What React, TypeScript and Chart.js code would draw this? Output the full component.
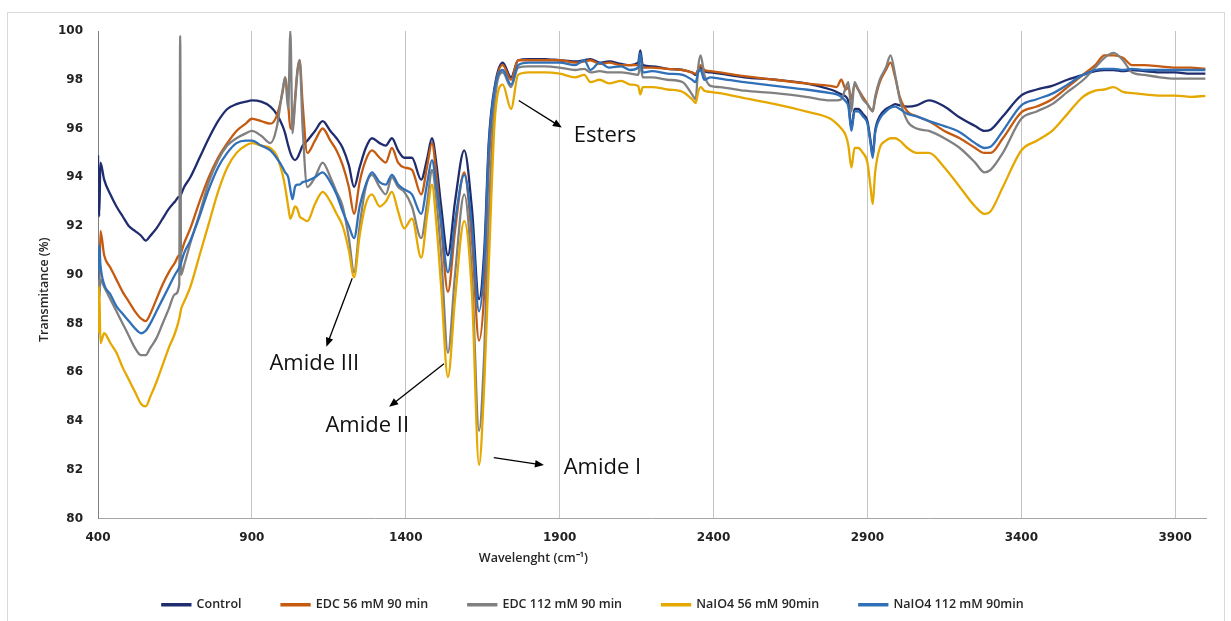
import React, { useEffect, useRef } from 'react';
import { Chart, registerables } from 'chart.js';

Chart.register(...registerables);

// ---------- data (wavenumber in cm-1, transmittance in %) ----------
const WAVENUMBERS = [
  400, 404, 408, 420, 440, 460, 480, 500, 520, 540, 555, 570, 590, 610, 630, 650, 664, 667, 670, 680, 700, 730, 760, 790, 820, 850, 880, 900, 930, 960,
  980, 1000, 1008, 1018, 1025, 1032, 1040, 1048, 1055, 1065, 1080, 1105, 1130, 1155, 1175, 1195, 1215, 1232, 1250, 1270, 1290, 1315, 1335, 1355, 1375, 1395, 1420, 1450, 1470, 1485, 1500, 1515,
  1537, 1560, 1590, 1615, 1638, 1655, 1670, 1690, 1715, 1742, 1765, 1800,
  1850, 1900, 1950, 1980, 2000, 2030, 2060, 2100, 2130, 2155, 2162, 2170, 2200, 2250, 2300, 2330, 2342, 2350, 2358, 2370, 2390, 2420, 2500, 2600, 2700, 2780,
  2800, 2815, 2830, 2838, 2848, 2858, 2870, 2885, 2900, 2910, 2917, 2925, 2940, 2960, 2975, 2990, 3005, 3030, 3060, 3100, 3150, 3200, 3250, 3280, 3300, 3340, 3400,
  3450, 3500, 3550, 3600, 3640, 3670, 3700, 3730, 3760, 3800, 3850, 3900, 3950, 3998,
];

const CONTROL = [
  94.9, 92.4, 94.6, 93.9, 93.3, 92.8, 92.4, 92.0, 91.8, 91.6, 91.4, 91.6, 91.9, 92.3, 92.7, 93.0, 93.2, 93.2, 93.3, 93.6, 94.0, 94.8, 95.6, 96.3, 96.8, 97.0, 97.1, 97.15, 97.1, 96.9,
  96.6, 96.1, 95.8, 95.3, 95.0, 94.8, 94.7, 94.8, 95.0, 95.3, 95.5, 95.9, 96.3, 95.9, 95.6, 95.2, 94.5, 93.6, 94.4, 95.2, 95.6, 95.4, 95.3, 95.6, 95.1, 94.8, 94.8, 93.9, 94.8, 95.6, 94.5, 92.8,
  90.8, 93.0, 95.1, 92.7, 89.0, 91.0, 95.5, 97.8, 98.7, 98.1, 98.8, 98.85,
  98.85, 98.8, 98.75, 98.8, 98.85, 98.7, 98.75, 98.65, 98.6, 98.7, 99.2, 98.6, 98.55, 98.45, 98.4, 98.3, 98.2, 98.4, 98.5, 98.35, 98.3, 98.25, 98.1, 98.0, 97.85, 97.6,
  97.5, 97.4, 97.3, 97.1, 96.0, 96.8, 96.8, 96.6, 96.3, 95.5, 94.9, 95.9, 96.5, 96.8, 96.9, 97.0, 96.95, 96.9, 96.95, 97.15, 96.9, 96.45, 96.1, 95.9, 95.95, 96.5, 97.36,
  97.6, 97.75, 98.0, 98.2, 98.35, 98.4, 98.4, 98.35, 98.4, 98.35, 98.3, 98.3, 98.25, 98.25,
];

const EDC_56 = [
  90.2, 89.4, 91.8, 90.8, 90.3, 89.8, 89.3, 88.9, 88.5, 88.2, 88.1, 88.4, 89.0, 89.6, 90.1, 90.5, 90.8, 90.8, 90.9, 91.3, 91.9, 93.0, 94.0, 94.8, 95.4, 95.9, 96.2, 96.4, 96.3, 96.2,
  96.5, 97.5, 98.1, 97.0, 96.0, 96.0, 97.2, 98.4, 98.8, 97.0, 95.0, 95.5, 96.0, 95.5, 95.1, 94.5, 93.6, 92.5, 93.8, 94.7, 95.1, 94.8, 94.6, 95.2, 94.6, 94.4, 94.3, 93.3, 94.5, 95.4, 94.0, 92.0,
  89.3, 91.8, 94.2, 91.4, 87.3, 89.3, 94.5, 97.6, 98.6, 98.0, 98.8, 98.8,
  98.8, 98.8, 98.7, 98.75, 98.8, 98.65, 98.7, 98.6, 98.6, 98.6, 98.9, 98.5, 98.5, 98.45, 98.4, 98.3, 98.25, 98.4, 98.6, 98.4, 98.35, 98.3, 98.15, 98.0, 97.85, 97.75,
  97.7, 98.0, 97.6, 97.7, 97.2, 97.8, 97.6, 97.3, 97.0, 96.8, 96.7, 97.2, 97.9, 98.4, 98.7, 98.1, 97.3, 96.7, 96.5, 96.3, 95.9, 95.6, 95.2, 95.0, 95.0, 95.6, 96.66,
  96.9, 97.2, 97.7, 98.2, 98.6, 99.0, 99.0, 98.9, 98.6, 98.6, 98.55, 98.5, 98.5, 98.45,
];

const EDC_112 = [
  90.6, 89.0, 89.8, 89.5, 89.0, 88.5, 88.0, 87.5, 87.0, 86.7, 86.7, 87.0, 87.4, 88.0, 88.6, 89.2, 89.6, 99.8, 90.0, 90.4, 91.3, 92.5, 93.8, 94.7, 95.3, 95.6, 95.8, 95.9, 95.7, 95.4,
  96.0, 97.6, 98.1, 96.8, 100.0, 95.8, 97.0, 98.3, 98.8, 96.0, 93.6, 94.0, 94.6, 94.0, 93.4, 92.8, 91.5, 90.1, 92.0, 93.6, 94.1, 93.6, 93.3, 94.0, 93.6, 93.4, 92.8, 91.5, 93.0, 94.3, 93.0, 90.8,
  86.8, 90.0, 93.3, 90.0, 83.6, 86.8, 92.5, 97.2, 98.3, 97.7, 98.5, 98.55,
  98.55, 98.5, 98.4, 98.45, 98.3, 98.35, 98.3, 98.3, 98.25, 98.2, 98.6, 98.1, 98.1, 98.0, 97.9, 97.4, 97.2, 98.5, 99.0, 98.2, 97.75, 97.7, 97.55, 97.45, 97.3, 97.15,
  97.15, 97.2, 97.7, 97.9, 96.7, 97.9, 97.6, 97.2, 97.0, 96.8, 96.7, 97.3, 98.0, 98.5, 99.0, 98.2, 97.2, 96.3, 96.0, 95.9, 95.6, 95.2, 94.6, 94.2, 94.3, 95.0, 96.4,
  96.7, 97.0, 97.5, 97.98, 98.5, 98.9, 99.1, 98.8, 98.3, 98.2, 98.1, 98.05, 98.05, 98.05,
];

const NAIO4_56 = [
  87.6, 89.5, 87.2, 87.6, 87.2, 86.8, 86.2, 85.7, 85.2, 84.7, 84.6, 85.0, 85.6, 86.3, 87.0, 87.6, 88.2, 88.4, 88.6, 88.9, 89.5, 90.8, 92.1, 93.4, 94.4, 95.0, 95.3, 95.4, 95.3, 95.2,
  94.9, 94.1, 93.6, 92.8, 92.3, 92.5, 92.8, 92.7, 92.4, 92.3, 92.2, 92.9, 93.4, 93.0, 92.5, 92.0, 91.0, 89.9, 91.6, 92.9, 93.3, 92.8, 93.0, 93.4, 92.6, 91.9, 92.3, 90.7, 92.5, 93.7, 92.0, 89.5,
  85.8, 89.0, 92.2, 89.2, 82.2, 85.5, 90.5, 96.5, 97.8, 96.8, 98.2, 98.3,
  98.3, 98.25, 98.1, 98.2, 97.9, 98.0, 97.85, 97.95, 97.8, 97.75, 97.4, 97.7, 97.7, 97.6, 97.5, 97.2, 97.05, 97.5, 97.7, 97.55, 97.5, 97.45, 97.25, 97.0, 96.7, 96.4,
  96.2, 96.0, 95.7, 95.3, 94.4, 95.2, 95.2, 95.0, 94.6, 93.6, 92.9, 94.2, 95.2, 95.5, 95.6, 95.6, 95.5, 95.2, 95.0, 95.0, 94.4, 93.6, 92.8, 92.5, 92.6, 93.6, 95.1,
  95.5, 95.9, 96.6, 97.3, 97.55, 97.6, 97.7, 97.5, 97.45, 97.4, 97.35, 97.35, 97.3, 97.34,
];

const NAIO4_112 = [
  89.8, 91.2, 90.4, 89.6, 89.2, 88.7, 88.4, 88.1, 87.8, 87.6, 87.7, 88.0, 88.5, 89.0, 89.5, 90.0, 90.3, 90.4, 90.5, 90.9, 91.4, 92.4, 93.5, 94.4, 95.0, 95.4, 95.5, 95.5, 95.3, 95.1,
  94.8, 94.4, 94.2, 94.0, 93.5, 93.1, 93.6, 93.7, 93.7, 93.8, 93.85, 94.0, 94.2, 93.8, 93.3, 92.6, 92.0, 91.5, 92.8, 93.7, 94.2, 93.8, 93.7, 94.1, 93.7, 93.5, 93.3, 92.5, 93.8, 94.7, 93.6, 92.2,
  90.1, 92.2, 94.1, 92.0, 88.5, 90.5, 95.3, 97.7, 98.4, 97.8, 98.6, 98.7,
  98.7, 98.7, 98.6, 98.8, 98.4, 98.7, 98.5, 98.55, 98.4, 98.5, 99.1, 98.3, 98.35, 98.25, 98.2, 98.0, 97.9, 98.3, 98.4, 98.0, 98.1, 98.05, 97.9, 97.75, 97.6, 97.45,
  97.4, 97.3, 97.1, 96.9, 95.9, 96.7, 96.7, 96.5, 96.2, 95.4, 94.8, 95.8, 96.4, 96.7, 96.85, 96.9, 96.8, 96.6, 96.5, 96.3, 96.1, 95.85, 95.4, 95.2, 95.25, 95.9, 96.95,
  97.2, 97.43, 97.8, 98.2, 98.4, 98.45, 98.45, 98.4, 98.45, 98.4, 98.4, 98.4, 98.4, 98.4,
];

const SERIES_LABELS = ['Control', 'EDC 56 mM 90 min', 'EDC 112 mM 90 min', 'NaIO4 56 mM 90min', 'NaIO4 112 mM 90min'];
const SERIES_VALUES = [CONTROL, EDC_56, EDC_112, NAIO4_56, NAIO4_112];
const SERIES_COLORS = ['#1f2d6e', '#c55a11', '#808080', '#e5a800', '#3070b8'];

const X_TICKS = [400, 900, 1400, 1900, 2400, 2900, 3400, 3900];
const X_MIN = 400;
const X_MAX = 4000;
const Y_MIN = 80;
const Y_MAX = 100;
const Y_STEP = 2;

const X_TITLE = 'Wavelenght (cm\u207B\u00B9)';
const Y_TITLE = 'Transmitance (%)';

// annotation labels and arrows, in data coordinates
const NOTE_TEXTS = ['Esters', 'Amide I', 'Amide II', 'Amide III'];
const NOTE_TEXT_X = [1946, 1913, 1139, 957];
const NOTE_TEXT_Y = [95.7, 82.1, 83.8, 86.35];
const ARROW_FROM_X = [1767, 1686, 1524, 1226];
const ARROW_FROM_Y = [97.15, 82.5, 86.35, 89.86];
const ARROW_TO_X = [1907, 1849, 1346, 1142];
const ARROW_TO_Y = [96.04, 82.19, 84.58, 87.05];

const overlayPlugin = {
  id: 'overlay',
  afterLayout(chart: any) {
    // Excel-style legend sits slightly left of centre
    if (chart.legend) {
      chart.legend.left -= 14;
      chart.legend.right -= 14;
    }
  },
  afterDatasetsDraw(chart: any) {
    const { ctx, scales, chartArea } = chart;
    const xs = scales.x;
    const ys = scales.y;
    ctx.save();
    ctx.strokeStyle = '#000';
    ctx.fillStyle = '#000';
    ctx.lineWidth = 1.3;
    for (let i = 0; i < NOTE_TEXTS.length; i++) {
      const x1 = xs.getPixelForValue(ARROW_FROM_X[i]);
      const y1 = ys.getPixelForValue(ARROW_FROM_Y[i]);
      const x2 = xs.getPixelForValue(ARROW_TO_X[i]);
      const y2 = ys.getPixelForValue(ARROW_TO_Y[i]);
      const ang = Math.atan2(y2 - y1, x2 - x1);
      const L = 9;
      const W = 3.8;
      ctx.beginPath();
      ctx.moveTo(x1, y1);
      ctx.lineTo(x2 - L * 0.6 * Math.cos(ang), y2 - L * 0.6 * Math.sin(ang));
      ctx.stroke();
      ctx.beginPath();
      ctx.moveTo(x2, y2);
      ctx.lineTo(x2 - L * Math.cos(ang) + W * Math.sin(ang), y2 - L * Math.sin(ang) - W * Math.cos(ang));
      ctx.lineTo(x2 - L * Math.cos(ang) - W * Math.sin(ang), y2 - L * Math.sin(ang) + W * Math.cos(ang));
      ctx.closePath();
      ctx.fill();
      ctx.font = '22px "Open Sans"';
      ctx.textAlign = 'left';
      ctx.textBaseline = 'middle';
      ctx.fillStyle = '#111';
      ctx.fillText(NOTE_TEXTS[i], xs.getPixelForValue(NOTE_TEXT_X[i]), ys.getPixelForValue(NOTE_TEXT_Y[i]));
      ctx.fillStyle = '#000';
    }
    // axis titles
    ctx.fillStyle = '#262626';
    ctx.font = '600 12.5px "Open Sans"';
    ctx.textAlign = 'center';
    ctx.textBaseline = 'middle';
    ctx.fillText(X_TITLE, chartArea.left + (chartArea.right - chartArea.left) * 0.393, chartArea.bottom + 40);
    ctx.translate(36, (chartArea.top + chartArea.bottom) / 2 + 15);
    ctx.rotate(-Math.PI / 2);
    ctx.fillText(Y_TITLE, 0, 0);
    ctx.restore();
  },
};

export default function App() {
  const canvasRef = useRef<HTMLCanvasElement | null>(null);

  useEffect(() => {
    if (!canvasRef.current) return;
    const tickFont = { family: '"DejaVu Sans"', size: 12, weight: 'bold' as const };
    const chart = new Chart(canvasRef.current, {
      type: 'line',
      data: {
        datasets: SERIES_LABELS.map((label, i) => ({
          label,
          data: WAVENUMBERS.map((w, j) => ({ x: w, y: SERIES_VALUES[i][j] })),
          borderColor: SERIES_COLORS[i],
          backgroundColor: SERIES_COLORS[i],
          borderWidth: 2.3,
          pointRadius: 0,
          cubicInterpolationMode: 'monotone' as const,
          order: -i,
        })),
      },
      options: {
        animation: false,
        responsive: true,
        maintainAspectRatio: false,
        events: [],
        layout: { padding: { top: 18, right: 18, left: 0, bottom: 2 } },
        scales: {
          x: {
            type: 'linear',
            min: X_MIN,
            max: X_MAX,
            afterBuildTicks: (scale: any) => {
              scale.ticks = X_TICKS.map((v) => ({ value: v }));
            },
            afterFit: (scale: any) => {
              scale.height = 40;
            },
            grid: { display: true, color: '#c4c4c4', lineWidth: 1, drawTicks: false },
            border: { display: true, color: '#a6a6a6', width: 1 },
            ticks: {
              font: tickFont,
              color: '#222',
              padding: 12,
              maxRotation: 0,
              autoSkip: false,
              callback: (v: any) => String(v),
            },
          },
          y: {
            type: 'linear',
            min: Y_MIN,
            max: Y_MAX,
            afterFit: (scale: any) => {
              scale.width = 90;
              scale.paddingTop = 7;
              scale.paddingBottom = 7;
            },
            grid: { display: false, drawTicks: false },
            border: { display: true, color: '#808080', width: 1 },
            ticks: { stepSize: Y_STEP, font: tickFont, color: '#222', padding: 15, callback: (v: any) => String(v) },
          },
        },
        plugins: {
          tooltip: { enabled: false },
          legend: {
            position: 'bottom',
            labels: {
              boxWidth: 28,
              boxHeight: 1,
              padding: 40,
              color: '#262626',
              font: { family: '"Open Sans"', size: 12.5, weight: 600 as any },
              sort: (a: any, b: any) => a.datasetIndex - b.datasetIndex,
            },
          },
        },
      },
      plugins: [overlayPlugin],
    });
    return () => chart.destroy();
  }, []);

  return (
    <div
      style={{
        position: 'absolute',
        left: 7,
        top: 12,
        width: 1218,
        height: 612,
        border: '1px solid #d9d9d9',
        boxSizing: 'border-box',
        background: '#fff',
      }}
    >
      <canvas ref={canvasRef} />
    </div>
  );
}
